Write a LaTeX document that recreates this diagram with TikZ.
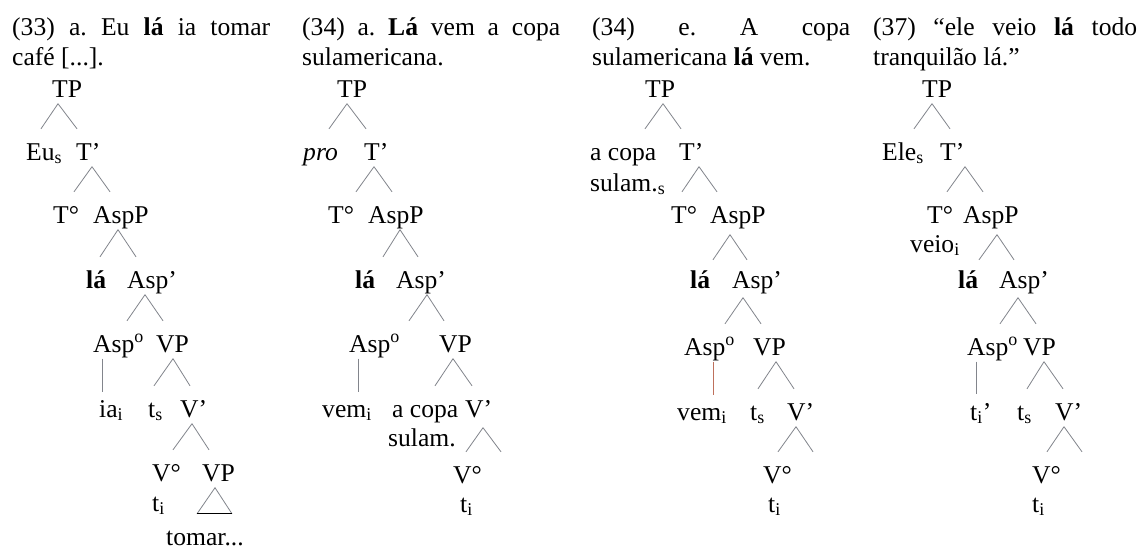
\documentclass[tikz,border=0pt]{standalone}
\usepackage{fontspec}
\setmainfont{Liberation Serif}
\definecolor{linegray}{RGB}{130,133,140}
\definecolor{linered}{RGB}{190,112,92}
\tolerance=10000
\hyphenpenalty=10000
\frenchspacing

\begin{document}
\begin{tikzpicture}[x=1pt, y=-1pt,
  font=\fontsize{25.6}{30}\selectfont,
  lbl/.style={anchor=base west, inner xsep=0pt, inner ysep=6.5pt, text height=24.5pt, text depth=0pt},
  txt/.style={anchor=base west, inner sep=0pt},
  ttl/.style={txt, text width=258pt, align=justify},
  br/.style={draw=linegray, line width=0.8pt}]
  \useasboundingbox[fill=white] (0,0) rectangle (1143,549);

  % (33) a.
  \node[ttl] (ex1) at (12,35) {(33) a. Eu \textbf{lá} ia tomar\linebreak café [...].};
  \node[lbl] (tp1) at (52,97) {TP};
  \node[lbl] (eu1) at (26,160) {Eu\textsubscript{s}};
  \node[lbl] (tb1) at (76,160) {T’};
  \node[lbl] (to1) at (53,223) {T°};
  \node[lbl] (asp1) at (93,223) {AspP};
  \node[lbl] (la1) at (86,288) {\textbf{lá}};
  \node[lbl] (ab1) at (127,288) {Asp’};
  \node[lbl] (ao1) at (93,352) {Asp\textsuperscript{o}};
  \node[lbl] (vp1) at (156,352) {VP};
  \node[lbl] (ia1) at (99,417) {ia\textsubscript{i}};
  \node[lbl] (ts1) at (148,417) {t\textsubscript{s}};
  \node[lbl] (vb1) at (180,417) {V’};
  \node[lbl] (vo1) at (152,481) {V°};
  \node[lbl] (vq1) at (202,481) {VP};
  \node[txt] (ti1) at (152,511) {t\textsubscript{i}};
  \node[lbl] (tm1) at (166,545) {tomar...};
  \draw[br] ([xshift=6pt]tp1.south west) edge ([xshift=15pt]eu1.north west) edge ([xshift=1pt]tb1.north west);
  \draw[br] ([xshift=16pt]tb1.south west) edge ([xshift=21pt]to1.north west) edge ([xshift=17pt]asp1.north west);
  \draw[br] ([xshift=25pt]asp1.south west) edge ([xshift=14pt]la1.north west) edge ([xshift=9pt]ab1.north west);
  \draw[br] ([xshift=18pt]ab1.south west) edge ([xshift=34pt]ao1.north west) edge ([xshift=7pt]vp1.north west);
  \draw[br] ([xshift=9pt]ao1.south west) -- ([xshift=3pt,yshift=-6pt]ia1.north west);
  \draw[br] ([xshift=17pt]vp1.south west) edge ([xshift=6pt]ts1.north west) edge ([xshift=10pt]vb1.north west);
  \draw[br] ([xshift=12pt]vb1.south west) edge ([xshift=21pt]vo1.north west) edge ([xshift=7pt]vq1.north west);
  \draw[br] ([xshift=31pt]tm1.north west) -- ([xshift=13pt]vq1.south west) -- ([xshift=66pt]tm1.north west);
  \draw[line width=1.1pt] ([xshift=31pt]tm1.north west) -- ([xshift=66pt]tm1.north west);

  % (34) a.
  \node[ttl] (ex2) at (302,35) {(34) a. \textbf{Lá} vem a copa sulamericana.};
  \node[lbl] (tp2) at (337,97) {TP};
  \node[lbl] (pro2) at (303,160) {\textit{pro}};
  \node[lbl] (tb2) at (364,160) {T’};
  \node[lbl] (to2) at (328,223) {T°};
  \node[lbl] (asp2) at (368,223) {AspP};
  \node[lbl] (la2) at (355,288) {\textbf{lá}};
  \node[lbl] (ab2) at (396,288) {Asp’};
  \node[lbl] (ao2) at (349,352) {Asp\textsuperscript{o}};
  \node[lbl] (vp2) at (439,352) {VP};
  \node[lbl] (vem2) at (322,417) {vem\textsubscript{i}};
  \node[lbl] (cp2) at (392,417) {a copa};
  \node[txt] (sl2) at (388,446) {sulam.};
  \node[lbl] (vb2) at (465,417) {V’};
  \node[lbl] (vo2) at (453,483) {V°};
  \node[txt] (ti2) at (460,512) {t\textsubscript{i}};
  \draw[br] ([xshift=10pt]tp2.south west) edge ([xshift=26pt]pro2.north west) edge ([xshift=2pt]tb2.north west);
  \draw[br] ([xshift=10pt]tb2.south west) edge ([xshift=28pt]to2.north west) edge ([xshift=24pt]asp2.north west);
  \draw[br] ([xshift=32pt]asp2.south west) edge ([xshift=28pt]la2.north west) edge ([xshift=22pt]ab2.north west);
  \draw[br] ([xshift=31pt]ab2.south west) edge ([xshift=60pt]ao2.north west) edge ([xshift=5pt]vp2.north west);
  \draw[br] ([xshift=9pt]ao2.south west) -- ([xshift=36pt,yshift=-6pt]vem2.north west);
  \draw[br] ([xshift=14pt]vp2.south west) edge ([xshift=43pt]cp2.north west) edge ([xshift=7pt]vb2.north west);
  \draw[br] ([xshift=18pt,yshift=-4pt]vb2.south west) edge ([xshift=13pt]vo2.north west) edge ([xshift=48pt]vo2.north west);

  % (34) e.
  \node[ttl] (ex3) at (592,35) {(34) e. A copa sulamericana \textbf{lá} vem.};
  \node[lbl] (tp3) at (645,97) {TP};
  \node[lbl] (cp3) at (590,160) {a copa};
  \node[txt] (sl3) at (590,191) {sulam.\textsubscript{s}};
  \node[lbl] (tb3) at (679,160) {T’};
  \node[lbl] (to3) at (671,223) {T°};
  \node[lbl] (asp3) at (710,223) {AspP};
  \node[lbl] (la3) at (690,288) {\textbf{lá}};
  \node[lbl] (ab3) at (732,288) {Asp’};
  \node[lbl] (ao3) at (684,355) {Asp\textsuperscript{o}};
  \node[lbl] (vp3) at (753,355) {VP};
  \node[lbl] (vem3) at (677,420) {vem\textsubscript{i}};
  \node[lbl] (ts3) at (750,420) {t\textsubscript{s}};
  \node[lbl] (vb3) at (787,420) {V’};
  \node[lbl] (vo3) at (763,483) {V°};
  \node[txt] (ti3) at (768,512) {t\textsubscript{i}};
  \draw[br] ([xshift=18pt]tp3.south west) edge ([xshift=55pt]cp3.north west) edge ([xshift=2pt]tb3.north west);
  \draw[br] ([xshift=20pt]tb3.south west) edge ([xshift=11pt]to3.north west) edge ([xshift=7pt]asp3.north west);
  \draw[br] ([xshift=20pt,yshift=-5pt]asp3.south west) edge ([xshift=23pt,yshift=-3pt]la3.north west) edge ([xshift=15pt,yshift=-3pt]ab3.north west);
  \draw[br] ([xshift=11pt,yshift=-3pt]ab3.south west) edge ([xshift=41pt]ao3.north west) edge ([xshift=8pt]vp3.north west);
  \draw[br, draw=linered] ([xshift=29pt]ao3.south west) -- ([xshift=36pt,yshift=-6pt]vem3.north west);
  \draw[br] ([xshift=23pt]vp3.south west) edge ([xshift=8pt]ts3.north west) edge ([xshift=7pt]vb3.north west);
  \draw[br] ([xshift=9pt]vb3.south west) edge ([xshift=15pt]vo3.north west) edge ([xshift=50pt]vo3.north west);

  % (37)
  \node[ttl, text width=264pt] (ex4) at (873,35) {(37) “ele veio \textbf{lá} todo tranquilão lá.”};
  \node[lbl] (tp4) at (922,97) {TP};
  \node[lbl] (ele4) at (882,160) {Ele\textsubscript{s}};
  \node[lbl] (tb4) at (940,160) {T’};
  \node[lbl] (to4) at (927,223) {T°};
  \node[lbl] (asp4) at (963,223) {AspP};
  \node[txt] (veio4) at (910,252) {veio\textsubscript{i}};
  \node[lbl] (la4) at (958,288) {\textbf{lá}};
  \node[lbl] (ab4) at (999,288) {Asp’};
  \node[lbl] (ao4) at (967,355) {Asp\textsuperscript{o}};
  \node[lbl] (vp4) at (1023,355) {VP};
  \node[lbl] (tt4) at (970,420) {t\textsubscript{i}’};
  \node[lbl] (ts4) at (1017,420) {t\textsubscript{s}};
  \node[lbl] (vb4) at (1055,420) {V’};
  \node[lbl] (vo4) at (1032,483) {V°};
  \node[txt] (ti4) at (1032,512) {t\textsubscript{i}};
  \draw[br] ([xshift=10pt]tp4.south west) edge ([xshift=32pt]ele4.north west) edge ([xshift=10pt]tb4.north west);
  \draw[br] ([xshift=25pt]tb4.south west) edge ([xshift=20pt]to4.north west) edge ([xshift=20pt]asp4.north west);
  \draw[br] ([xshift=34pt,yshift=-5pt]asp4.south west) edge ([xshift=21pt,yshift=-3pt]la4.north west) edge ([xshift=15pt,yshift=-3pt]ab4.north west);
  \draw[br] ([xshift=19pt,yshift=-3pt]ab4.south west) edge ([xshift=33pt]ao4.north west) edge ([xshift=13pt]vp4.north west);
  \draw[br] ([xshift=9pt]ao4.south west) -- ([xshift=6pt,yshift=-5pt]tt4.north west);
  \draw[br] ([xshift=21pt]vp4.south west) edge ([xshift=10pt]ts4.north west) edge ([xshift=8pt]vb4.north west);
  \draw[br] ([xshift=9pt]vb4.south west) edge ([xshift=15pt]vo4.north west) edge ([xshift=50pt]vo4.north west);
\end{tikzpicture}
\end{document}
